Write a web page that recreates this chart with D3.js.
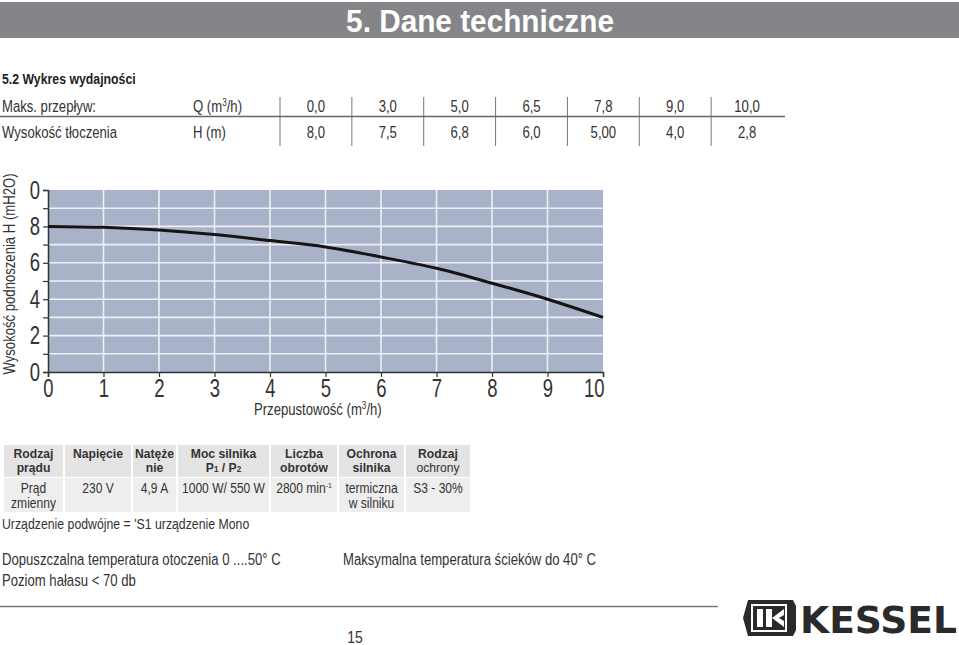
<!DOCTYPE html>
<html><head><meta charset="utf-8">
<script src="https://cdn.jsdelivr.net/npm/d3@7"></script>
<style>body{margin:0;background:#fff} svg{display:block}</style>
</head><body><svg id="c" width="959" height="645"></svg>
<script>
// ---- data ----
const flowQ = [0,1,2,3,4,5,6,7,8,9,10];
const headH = [8.0,7.95,7.8,7.55,7.22,6.87,6.32,5.7,4.88,4.0,3.0];
const xTickValues = [0,1,2,3,4,5,6,7,8,9,10];
const yTickValues = [0,2,4,6,8,10];
const yTickLabels = ["0","2","4","6","8","0"];
const tableQLabels = ["0,0","3,0","5,0","6,5","7,8","9,0","10,0"];
const tableHLabels = ["8,0","7,5","6,8","6,0","5,00","4,0","2,8"];
const specHeaders = [["Rodzaj","prądu"],["Napięcie"],["Natęże","nie"],["Moc silnika","P1 / P2"],["Liczba","obrotów"],["Ochrona","silnika"],["Rodzaj","ochrony"]];
const specValues = [["Prąd","zmienny"],["230 V"],["4,9 A"],["1000 W/ 550 W"],["2800 min-1"],["termiczna","w silniku"],["S3 - 30%"]];

const F = "'Liberation Sans',Arial,sans-serif";
const svg = d3.select("#c");

// narrow text helper: horizontally compressed text
function nt(parent, x, y, s, o={}){
  const g = parent.append("g").attr("transform",`translate(${x},${y})${o.rot?` rotate(${o.rot})`:""} scale(${o.sx||0.82},1)`);
  const t = g.append("text").attr("x",0).attr("y",0).attr("font-family",F)
    .attr("font-size",o.size||16).attr("fill",o.fill||"#333")
    .attr("text-anchor",o.anchor||"start").attr("font-weight",o.weight||"normal");
  if(s!=null) t.text(s);
  return t;
}

// header bar
svg.append("rect").attr("x",0).attr("y",2).attr("width",959).attr("height",36).attr("fill","#858589");
nt(svg,480,32,"5. Dane techniczne",{size:32,weight:"bold",anchor:"middle",fill:"#fff",sx:0.93});

nt(svg,2,84,"5.2 Wykres wydajności",{size:15,weight:"bold",fill:"#222"});

// top table
const tcol = d3.scaleBand().domain(d3.range(tableQLabels.length)).range([280,783]);
nt(svg,2,112,"Maks. przepływ:");
nt(svg,2,138,"Wysokość tłoczenia");
const qh = nt(svg,193,112,null); qh.append("tspan").text("Q (m");
qh.append("tspan").attr("font-size",10).attr("dy",-6).text("3");
qh.append("tspan").attr("dy",6).text("/h)");
nt(svg,193,138,"H (m)");
tableQLabels.forEach((t,i)=>{
  const cx = tcol(i)+tcol.bandwidth()/2;
  nt(svg,cx,112,t,{anchor:"middle"});
  nt(svg,cx,138,tableHLabels[i],{anchor:"middle"});
  svg.append("line").attr("x1",tcol(i)).attr("x2",tcol(i)).attr("y1",97).attr("y2",146).attr("stroke","#777").attr("stroke-width",1);
});
svg.append("line").attr("x1",0).attr("x2",785).attr("y1",116.5).attr("y2",116.5).attr("stroke","#666").attr("stroke-width",1.5);

// chart
const x = d3.scaleLinear().domain([0,10]).range([48,603]);
const y = d3.scaleLinear().domain([0,10]).range([372,190]);
svg.append("rect").attr("x",x(0)).attr("y",y(10)).attr("width",x(10)-x(0)).attr("height",y(0)-y(10)).attr("fill","#a8b2c8");
const grid = svg.append("g").attr("stroke","#eef0f5").attr("stroke-width",1.6);
d3.range(1,10).forEach(v=>{
  grid.append("line").attr("x1",x(v)).attr("x2",x(v)).attr("y1",y(0)).attr("y2",y(10));
  grid.append("line").attr("x1",x(0)).attr("x2",x(10)).attr("y1",y(v)).attr("y2",y(v));
});
const SX = 0.74;
const xAxis = svg.append("g").attr("transform",`translate(0,${y(0)})`)
  .call(d3.axisBottom(x).tickValues(xTickValues).tickSize(5).tickPadding(2).tickFormat(d3.format("d")));
const yAxis = svg.append("g").attr("transform",`translate(${x(0)},0)`)
  .call(d3.axisLeft(y).tickValues(d3.range(0,11)).tickSize(5).tickPadding(3)
    .tickFormat(d=>{const i=yTickValues.indexOf(d);return i<0?"":yTickLabels[i];}));
[xAxis,yAxis].forEach(a=>{
  a.select(".domain").attr("stroke","#333").attr("stroke-width",1.5);
  a.selectAll(".tick line").attr("stroke","#333").attr("stroke-width",1.2);
  a.selectAll("text").attr("font-family",F).attr("font-size",25).attr("fill","#333").attr("transform",`scale(${SX},1)`);
});
xAxis.selectAll("text").attr("dy","0.72em");
xAxis.selectAll(".tick").filter(d=>d===10).select("text").attr("text-anchor","end").attr("x",1/SX);
yAxis.selectAll("text").attr("x",-8/SX);
svg.append("path").datum(flowQ.map((q,i)=>[q,headH[i]]))
  .attr("d",d3.line().x(d=>x(d[0])).y(d=>y(d[1])).curve(d3.curveMonotoneX))
  .attr("fill","none").attr("stroke","#151515").attr("stroke-width",3);

nt(svg,15,274,"Wysokość podnoszenia H (mH2O)",{rot:-90,anchor:"middle",size:16});
const xt = nt(svg,254,415,null,{size:16}); xt.append("tspan").text("Przepustowość  (m");
xt.append("tspan").attr("font-size",10).attr("dy",-6).text("3");
xt.append("tspan").attr("dy",6).text("/h)");

// spec table
const colEdges = [3,64,132,177,270,338,405,471];
for(let i=0;i<7;i++){
  const x0=colEdges[i]+1, x1=colEdges[i+1]-1, cx=(x0+x1)/2;
  svg.append("rect").attr("x",x0).attr("y",445).attr("width",x1-x0).attr("height",32).attr("fill","#e4e4e4");
  svg.append("rect").attr("x",x0).attr("y",478).attr("width",x1-x0).attr("height",34).attr("fill","#eeeeee");
  specHeaders[i].forEach((t,j)=>{
    const el = nt(svg,cx,458+j*14,null,{anchor:"middle",size:13.5,sx:0.9,weight:(i===6&&j===1)?"normal":"bold"});
    if(t==="P1 / P2"){
      el.append("tspan").text("P"); el.append("tspan").attr("font-size",9).text("1");
      el.append("tspan").text(" / P"); el.append("tspan").attr("font-size",9).text("2");
    } else el.text(t);
  });
  specValues[i].forEach((t,j)=>{
    const el = nt(svg,cx,493+j*15,null,{anchor:"middle",size:14,sx:0.86});
    if(t==="2800 min-1"){
      el.append("tspan").text("2800 min"); el.append("tspan").attr("font-size",8).attr("dy",-5).text("-1");
    } else el.text(t);
  });
}
nt(svg,2,529,"Urządzenie podwójne = ʹS1 urządzenie Mono",{size:15});
nt(svg,2,565,"Dopuszczalna temperatura otoczenia 0 ....50° C",{size:16});
nt(svg,343,565,"Maksymalna temperatura ścieków do 40° C",{size:16});
nt(svg,2,586,"Poziom hałasu < 70 db",{size:16});
svg.append("line").attr("x1",0).attr("x2",718).attr("y1",606.5).attr("y2",606.5).attr("stroke","#777").attr("stroke-width",1.5);
nt(svg,355,643,"15",{anchor:"middle",size:17});

// logo
const lg = svg.append("g").attr("fill","#2a2a2a");
lg.append("path").attr("d","M748,600 L793,600 L796,606 L796,630 L793,636 L748,636 L743,618 Z");
lg.append("rect").attr("x",751).attr("y",604).attr("width",36).attr("height",28).attr("fill","#fff");
lg.append("rect").attr("x",753).attr("y",606).attr("width",32).attr("height",24).attr("fill","#2a2a2a");
lg.append("rect").attr("x",757).attr("y",609).attr("width",6).attr("height",18).attr("fill","#fff");
lg.append("rect").attr("x",766).attr("y",609).attr("width",6).attr("height",18).attr("fill","#fff");
lg.append("path").attr("d","M772,618 L784,609 L784,615 L779,618 L784,621 L784,627 Z").attr("fill","#fff");
lg.append("text").attr("x",800).attr("y",633).attr("font-family","'DejaVu Sans',sans-serif").attr("font-weight","bold")
  .attr("font-size",38).attr("textLength",157).attr("lengthAdjust","spacingAndGlyphs").text("KESSEL");
</script></body></html>
